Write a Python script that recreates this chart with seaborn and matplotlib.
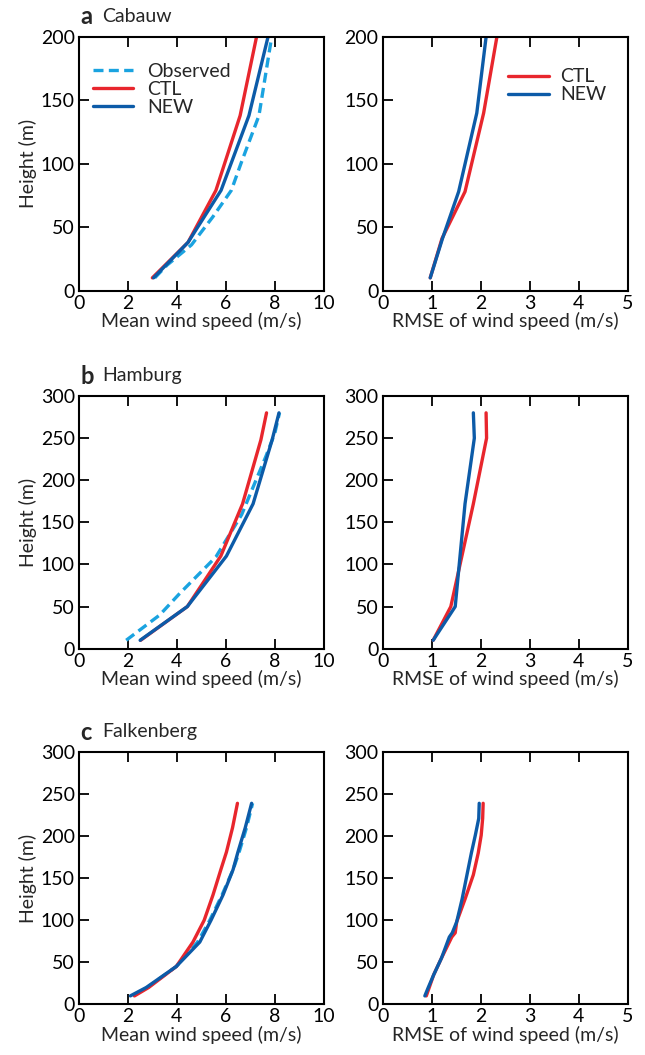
import numpy as np
import pandas as pd
import matplotlib
matplotlib.use("Agg")
import matplotlib.pyplot as plt
import seaborn as sns

sns.set_theme(style="white")
plt.rcParams['font.family'] = ['Lato', 'DejaVu Sans']

# ---------------- data ----------------
# Cabauw
cab_obs_h = [10, 20, 36, 58, 79, 100, 138, 200]
cab_obs = [3.1, 3.6, 4.6, 5.47, 6.23, 6.62, 7.36, 7.88]
cab_h = [10, 38, 79, 138, 200]
cab_ctl = [3.0, 4.46, 5.6, 6.59, 7.26]
cab_new = [3.05, 4.46, 5.81, 6.95, 7.73]
cab_rmse_h = [10, 41, 78, 140, 200]
cab_rmse_ctl = [0.97, 1.21, 1.68, 2.06, 2.33]
cab_rmse_new = [0.97, 1.22, 1.55, 1.92, 2.11]

# Hamburg
ham_h = [10, 50, 110, 172, 248, 280]
ham_obs_h = [10, 40, 65, 109, 159, 228, 256, 280]
ham_obs = [1.93, 3.3, 4.1, 5.6, 6.65, 7.64, 8.01, 8.2]
ham_ctl = [2.52, 4.43, 5.8, 6.69, 7.44, 7.67]
ham_new = [2.5, 4.43, 6.03, 7.12, 7.9, 8.18]
ham_rmse_h = [10, 50, 172, 250, 280]
ham_rmse_ctl = [1.03, 1.39, 1.85, 2.12, 2.11]
ham_rmse_new = [1.03, 1.48, 1.68, 1.87, 1.85]

# Falkenberg
fal_h = [10, 20, 45, 74, 100, 130, 160, 181, 210, 239]
fal_obs = [2.2, 2.8, 3.98, 4.85, 5.35, 5.85, 6.3, 6.55, 6.85, 7.1]
fal_ctl = [2.27, 2.85, 3.98, 4.66, 5.12, 5.48, 5.8, 6.03, 6.28, 6.48]
fal_new = [2.1, 2.75, 3.98, 4.94, 5.4, 5.89, 6.3, 6.5, 6.8, 7.06]
fal_rmse_h = [10, 20, 35, 55, 80, 85, 98, 125, 154, 180, 201, 221, 239]
fal_rmse_ctl = [0.89, 0.95, 1.04, 1.2, 1.41, 1.48, 1.51, 1.68, 1.85, 1.95, 2.01, 2.04, 2.05]
fal_rmse_new = [0.86, 0.93, 1.04, 1.2, 1.36, 1.42, 1.51, 1.62, 1.72, 1.81, 1.89, 1.96, 1.97]

RED = "#E8262D"
BLUE = "#0C5BA8"
LBLUE = "#1AA3E0"
FS = 14

fig = plt.figure(figsize=(6.45, 10.55), dpi=100)
W = 645.0
H = 1055.0

def ax_at(x0, x1, y0, y1):
    return fig.add_axes([x0 / W, 1 - y1 / H, (x1 - x0) / W, (y1 - y0) / H])

rows = [(37, 290.5), (396, 648.7), (752, 1004.3)]
axes = []
for (t, b) in rows:
    axes.append((ax_at(79, 323.5, t, b), ax_at(382.7, 627.7, t, b)))

def draw(ax, x, y, color, ls="-", label=None):
    df = pd.DataFrame({"x": x, "y": y})
    sns.lineplot(data=df, x="x", y="y", ax=ax, sort=False, color=color,
                 linestyle=ls, linewidth=2.4, label=label, estimator=None,
                 dashes=False)
    line = ax.get_lines()[-1]
    if ls == "--":
        line.set_dashes((3.0, 1.6))

def style(ax, xlim, xticks, ylim, yticks, xlabel, ylabel=None):
    ax.set_xlim(*xlim)
    ax.set_ylim(*ylim)
    ax.set_xticks(xticks)
    ax.set_yticks(yticks)
    ax.set_xlabel(xlabel, fontsize=FS, labelpad=0)
    ax.set_ylabel(ylabel if ylabel else "", fontsize=FS, labelpad=3)
    ax.tick_params(axis="both", direction="in", length=7, width=1.3,
                   labelsize=FS, top=True, right=False, bottom=True, left=True,
                   colors="black", pad=3)
    for s in ax.spines.values():
        s.set_color("black")
        s.set_linewidth(1.5)
        s.set_visible(True)

# ---- a Cabauw ----
axL, axR = axes[0]
draw(axL, cab_obs, cab_obs_h, LBLUE, "--", "Observed")
draw(axL, cab_ctl, cab_h, RED, "-", "CTL")
draw(axL, cab_new, cab_h, BLUE, "-", "NEW")
draw(axR, cab_rmse_ctl, cab_rmse_h, RED, "-", "CTL")
draw(axR, cab_rmse_new, cab_rmse_h, BLUE, "-", "NEW")
style(axL, (0, 10), [0, 2, 4, 6, 8, 10], (0, 200), [0, 50, 100, 150, 200],
      "Mean wind speed (m/s)", "Height (m)")
style(axR, (0, 5), [0, 1, 2, 3, 4, 5], (0, 200), [0, 50, 100, 150, 200],
      "RMSE of wind speed (m/s)")
axL.legend(loc="upper left", frameon=False, fontsize=FS, handlelength=2.1,
           borderaxespad=0.3, labelspacing=0.05, bbox_to_anchor=(0.0, 0.95),
           handletextpad=0.7)
axR.legend(loc="upper right", frameon=False, fontsize=FS, handlelength=2.1,
           borderaxespad=0.3, labelspacing=0.05, bbox_to_anchor=(0.97, 0.93),
           handletextpad=0.6)

# ---- b Hamburg ----
axL, axR = axes[1]
draw(axL, ham_obs, ham_obs_h, LBLUE, "--")
draw(axL, ham_ctl, ham_h, RED, "-")
draw(axL, ham_new, ham_h, BLUE, "-")
draw(axR, ham_rmse_ctl, ham_rmse_h, RED, "-")
draw(axR, ham_rmse_new, ham_rmse_h, BLUE, "-")
style(axL, (0, 10), [0, 2, 4, 6, 8, 10], (0, 300), [0, 50, 100, 150, 200, 250, 300],
      "Mean wind speed (m/s)", "Height (m)")
style(axR, (0, 5), [0, 1, 2, 3, 4, 5], (0, 300), [0, 50, 100, 150, 200, 250, 300],
      "RMSE of wind speed (m/s)")

# ---- c Falkenberg ----
axL, axR = axes[2]
draw(axL, fal_obs, fal_h, LBLUE, "--")
draw(axL, fal_ctl, fal_h, RED, "-")
draw(axL, fal_new, fal_h, BLUE, "-")
draw(axR, fal_rmse_ctl, fal_rmse_h, RED, "-")
draw(axR, fal_rmse_new, fal_rmse_h, BLUE, "-")
style(axL, (0, 10), [0, 2, 4, 6, 8, 10], (0, 300), [0, 50, 100, 150, 200, 250, 300],
      "Mean wind speed (m/s)", "Height (m)")
style(axR, (0, 5), [0, 1, 2, 3, 4, 5], (0, 300), [0, 50, 100, 150, 200, 250, 300],
      "RMSE of wind speed (m/s)")

for ax in [a for pair in axes for a in pair]:
    if ax.get_legend() is not None and ax not in (axes[0][0], axes[0][1]):
        ax.get_legend().remove()

# panel titles
titles = [("a", "Cabauw", 17), ("b", "Hamburg", 376), ("c", "Falkenberg", 732)]
for letter, name, ypx in titles:
    fig.text(80 / W, 1 - ypx / H, letter, fontsize=17, fontweight="bold",
             ha="left", va="center")
    fig.text(102 / W, 1 - ypx / H, name, fontsize=FS, ha="left", va="center")

fig.savefig("out.png", dpi=100)
